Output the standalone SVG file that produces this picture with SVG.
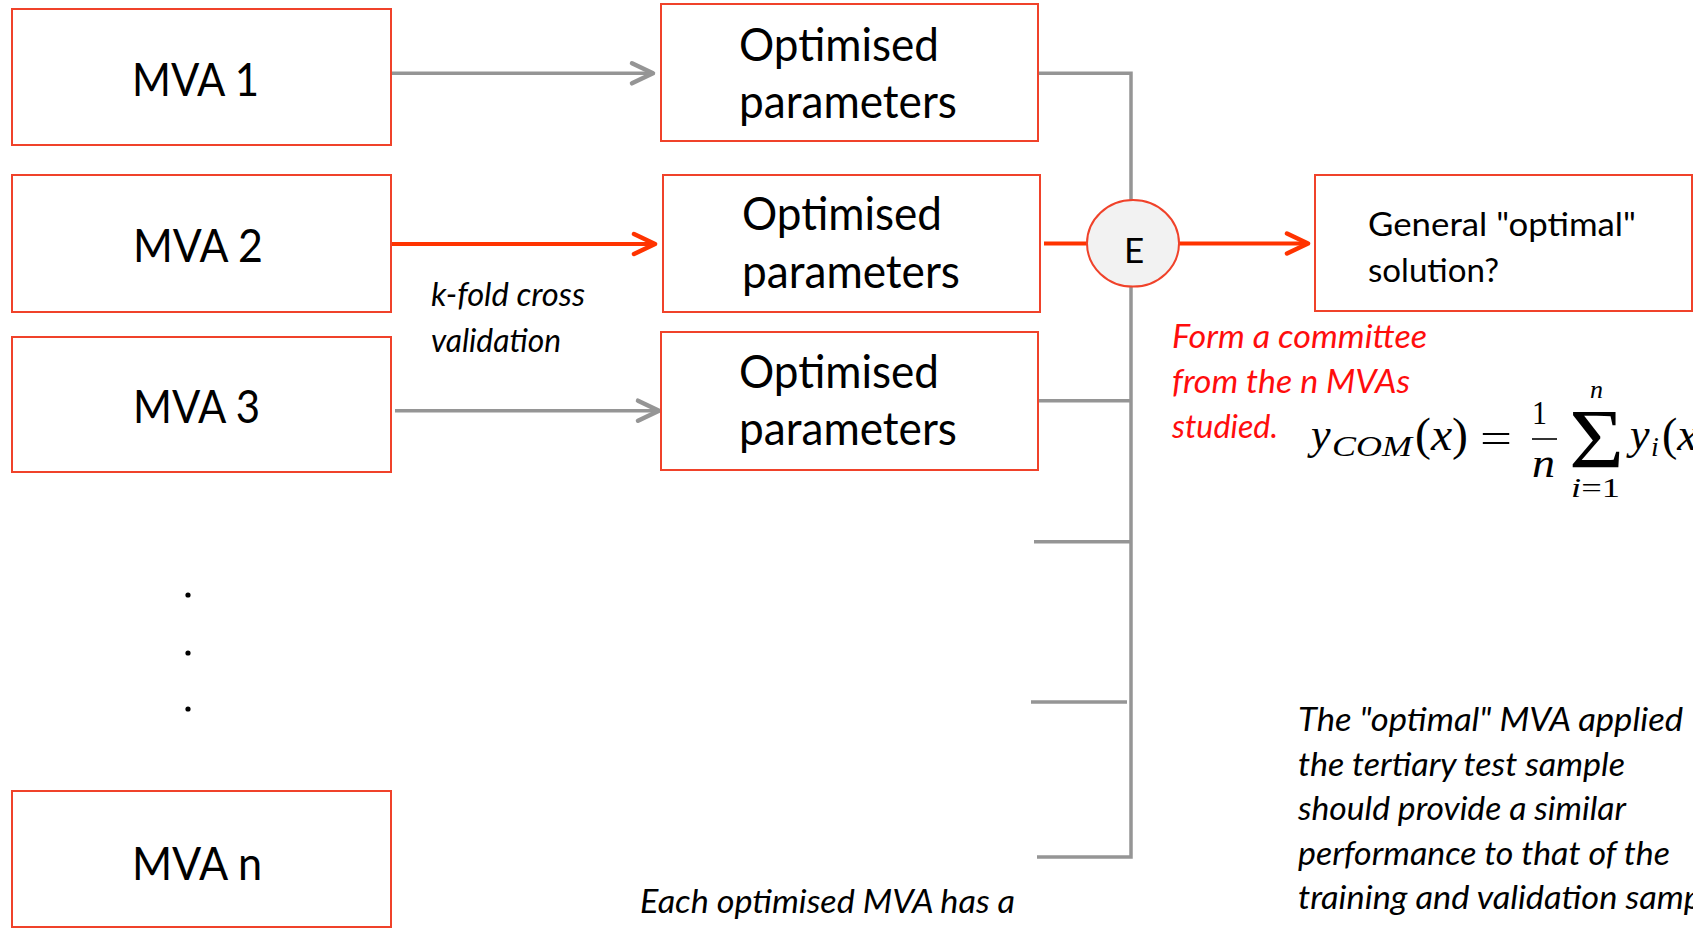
<svg xmlns="http://www.w3.org/2000/svg" width="1693" height="928" viewBox="0 0 1693 928">
  <style>
    .box { fill: #ffffff; stroke: #f0422a; stroke-width: 2; }
    .hub { fill: #f2f2f2; stroke: #f0422a; stroke-width: 2; }
    .lbl { font-family: "Lato", "Open Sans", sans-serif; fill: #000000; }
    .big { font-size: 46px; }
    .mid { font-size: 33px; }
    .ital { font-family: "Lato", "Open Sans", sans-serif; font-style: italic; font-size: 33px; fill: #000000; }
    .note { fill: #ff0d0d; }
    .math { font-family: "Liberation Serif", "DejaVu Serif", serif; fill: #000000; }
    .mi { font-style: italic; }
    .gray { fill: none; stroke: #959595; stroke-width: 3.5; }
    .red { fill: none; stroke: #ff3300; stroke-width: 4; }
  </style>
  <defs>
    <marker id="head-gray" markerUnits="userSpaceOnUse" markerWidth="30" markerHeight="30" refX="0" refY="0" orient="auto" overflow="visible">
      <path d="M-21,-10 L0,0 L-21,10" fill="none" stroke="#959595" stroke-width="4.5" stroke-linecap="round" stroke-linejoin="round"/>
    </marker>
    <marker id="head-red" markerUnits="userSpaceOnUse" markerWidth="30" markerHeight="30" refX="0" refY="0" orient="auto" overflow="visible">
      <path d="M-21,-10 L0,0 L-21,10" fill="none" stroke="#ff3300" stroke-width="4.5" stroke-linecap="round" stroke-linejoin="round"/>
    </marker>
  </defs>

  <rect width="1693" height="928" fill="#ffffff"/>

  <!-- connectors -->
  <g id="connectors">
    <path class="gray" d="M391,73.3 L653,73.3" marker-end="url(#head-gray)"/>
    <path class="red" d="M392,244 L655,244" marker-end="url(#head-red)"/>
    <path class="gray" d="M395,410.7 L659,410.7" marker-end="url(#head-gray)"/>
    <!-- collecting bus into the ensemble node -->
    <path class="gray" d="M1038,73.3 H1131 V200"/>
    <path class="gray" d="M1037,857 H1131 V287"/>
    <path class="gray" d="M1038,400.7 H1131"/>
    <path class="gray" d="M1034,541.7 H1131"/>
    <path class="gray" d="M1031,702 H1127"/>
    <path class="red" d="M1044,243.5 H1087"/>
    <path class="red" d="M1179,243.5 H1308" marker-end="url(#head-red)"/>
  </g>

  <!-- input MVAs -->
  <g id="mva-1">
    <rect class="box" x="12" y="9" width="379" height="136"/>
    <text class="lbl big" x="132" y="96" textLength="127" lengthAdjust="spacingAndGlyphs">MVA 1</text>
  </g>
  <g id="mva-2">
    <rect class="box" x="12" y="175" width="379" height="137"/>
    <text class="lbl big" x="133" y="262" textLength="130" lengthAdjust="spacingAndGlyphs">MVA 2</text>
  </g>
  <g id="mva-3">
    <rect class="box" x="12" y="337" width="379" height="135"/>
    <text class="lbl big" x="133" y="423" textLength="127" lengthAdjust="spacingAndGlyphs">MVA 3</text>
  </g>
  <g id="ellipsis">
    <circle cx="188" cy="595" r="2.6" fill="#000"/>
    <circle cx="188" cy="653" r="2.6" fill="#000"/>
    <circle cx="188" cy="709" r="2.6" fill="#000"/>
  </g>
  <g id="mva-n">
    <rect class="box" x="12" y="791" width="379" height="136"/>
    <text class="lbl big" x="132" y="880" textLength="130" lengthAdjust="spacingAndGlyphs">MVA n</text>
  </g>

  <!-- optimised parameter sets -->
  <g id="opt-1">
    <rect class="box" x="661" y="4" width="377" height="137"/>
    <text class="lbl big" x="739" y="61" textLength="200" lengthAdjust="spacingAndGlyphs">Optimised</text>
    <text class="lbl big" x="739" y="118" textLength="218" lengthAdjust="spacingAndGlyphs">parameters</text>
  </g>
  <g id="opt-2">
    <rect class="box" x="663" y="175" width="377" height="137"/>
    <text class="lbl big" x="742" y="230" textLength="200" lengthAdjust="spacingAndGlyphs">Optimised</text>
    <text class="lbl big" x="742" y="288" textLength="218" lengthAdjust="spacingAndGlyphs">parameters</text>
  </g>
  <g id="opt-3">
    <rect class="box" x="661" y="332" width="377" height="138"/>
    <text class="lbl big" x="739" y="388" textLength="200" lengthAdjust="spacingAndGlyphs">Optimised</text>
    <text class="lbl big" x="739" y="445" textLength="218" lengthAdjust="spacingAndGlyphs">parameters</text>
  </g>

  <g id="kfold-label">
    <text class="ital" x="431" y="306" textLength="154" lengthAdjust="spacingAndGlyphs">k-fold cross</text>
    <text class="ital" x="431" y="352" textLength="130" lengthAdjust="spacingAndGlyphs">validation</text>
  </g>

  <!-- ensemble node -->
  <g id="ensemble">
    <ellipse class="hub" cx="1133" cy="243.3" rx="46" ry="43.3"/>
    <text class="lbl" x="1134" y="262.7" font-size="35" text-anchor="middle">E</text>
  </g>

  <g id="general-solution">
    <rect class="box" x="1315" y="175" width="377" height="136"/>
    <text class="lbl mid" x="1368" y="236" textLength="268" lengthAdjust="spacingAndGlyphs">General "optimal"</text>
    <text class="lbl mid" x="1368" y="282" textLength="131" lengthAdjust="spacingAndGlyphs">solution?</text>
  </g>

  <g id="committee-note">
    <text class="ital note" x="1172" y="348" textLength="255" lengthAdjust="spacingAndGlyphs">Form a committee</text>
    <text class="ital note" x="1172" y="393" textLength="238" lengthAdjust="spacingAndGlyphs">from the n MVAs</text>
    <text class="ital note" x="1172" y="438" textLength="106" lengthAdjust="spacingAndGlyphs">studied.</text>
  </g>

  <!-- committee average -->
  <g id="formula" class="math">
    <text class="mi" x="1311" y="449" font-size="44">y</text>
    <text class="mi" x="1332" y="456" font-size="29" textLength="80" lengthAdjust="spacingAndGlyphs">COM</text>
    <text x="1415" y="450" font-size="46" textLength="53" lengthAdjust="spacingAndGlyphs">(<tspan class="mi">x</tspan>)</text>
    <text x="1480" y="452" font-size="42" textLength="32" lengthAdjust="spacingAndGlyphs">=</text>
    <text x="1532" y="424" font-size="33" textLength="15" lengthAdjust="spacingAndGlyphs">1</text>
    <line x1="1532" y1="439" x2="1557" y2="439" stroke="#000" stroke-width="1.6"/>
    <text class="mi" x="1532" y="477" font-size="40" textLength="23" lengthAdjust="spacingAndGlyphs">n</text>
    <text x="1569" y="468" font-size="85" textLength="55" lengthAdjust="spacingAndGlyphs">Σ</text>
    <text class="mi" x="1590" y="398" font-size="26">n</text>
    <text x="1571" y="497" font-size="27" textLength="49" lengthAdjust="spacingAndGlyphs"><tspan class="mi">i</tspan>=1</text>
    <text class="mi" x="1630" y="449" font-size="44">y</text>
    <text class="mi" x="1651" y="456" font-size="28">i</text>
    <text x="1662" y="450" font-size="46">(<tspan class="mi">x</tspan></text>
  </g>

  <g id="test-note">
    <text class="ital" x="1298" y="731" font-size="35" textLength="385" lengthAdjust="spacingAndGlyphs">The "optimal" MVA applied</text>
    <text class="ital" x="1298" y="775.5" font-size="35" textLength="327" lengthAdjust="spacingAndGlyphs">the tertiary test sample</text>
    <text class="ital" x="1298" y="820" font-size="35" textLength="328" lengthAdjust="spacingAndGlyphs">should provide a similar</text>
    <text class="ital" x="1298" y="864.5" font-size="35" textLength="372" lengthAdjust="spacingAndGlyphs">performance to that of the</text>
    <text class="ital" x="1298" y="909" font-size="35" textLength="404" lengthAdjust="spacingAndGlyphs">training and validation samp</text>
  </g>

  <g id="bottom-note">
    <text class="ital" x="640" y="913" textLength="375" lengthAdjust="spacingAndGlyphs">Each optimised MVA has a</text>
  </g>
</svg>
